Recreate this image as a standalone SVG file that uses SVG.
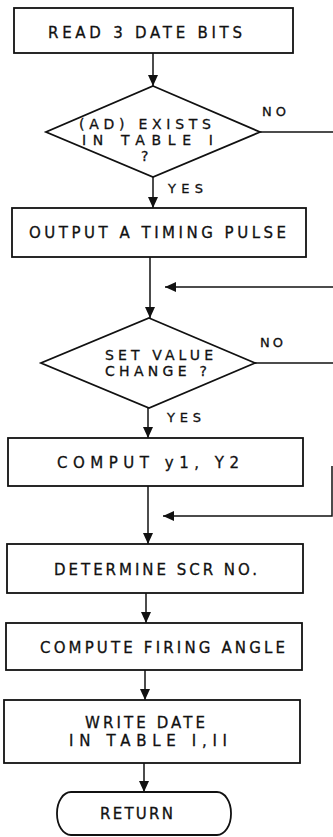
<svg xmlns="http://www.w3.org/2000/svg" width="333" height="837" viewBox="0 0 333 837">
  <style>
    .shape { fill: #fff; stroke: #111; stroke-width: 1.8; }
    .wire { fill: none; stroke: #111; stroke-width: 1.5; }
    .lbl { font-family: "DejaVu Sans", "Liberation Sans", sans-serif; font-size: 15px; fill: #111; stroke: #111; stroke-width: 0.3; }
    .dia { font-size: 14px; }
    .tag { font-family: "DejaVu Sans", "Liberation Sans", sans-serif; font-size: 13px; fill: #111; stroke: #111; stroke-width: 0.3; }
  </style>
  <defs>
    <marker id="arrow" markerUnits="userSpaceOnUse" markerWidth="12" markerHeight="10" refX="11" refY="5" orient="auto">
      <path d="M0,0 L11,5 L0,10 Z" fill="#111"/>
    </marker>
  </defs>

  <rect width="333" height="837" fill="#fff"/>

  <!-- connectors -->
  <g id="connectors">
    <path class="wire" d="M153,53 V86" marker-end="url(#arrow)"/>
    <path class="wire" d="M260,132 H333"/>
    <path class="wire" d="M153,177 V208" marker-end="url(#arrow)"/>
    <path class="wire" d="M150,257 V318" marker-end="url(#arrow)"/>
    <path class="wire" d="M333,287 H165" marker-end="url(#arrow)"/>
    <path class="wire" d="M255,363 H333"/>
    <path class="wire" d="M148,408 V438" marker-end="url(#arrow)"/>
    <path class="wire" d="M148,486 V544" marker-end="url(#arrow)"/>
    <path class="wire" d="M332,466 V516 H163" marker-end="url(#arrow)"/>
    <path class="wire" d="M146,593 V623" marker-end="url(#arrow)"/>
    <path class="wire" d="M145,670 V700" marker-end="url(#arrow)"/>
    <path class="wire" d="M144,763 V792" marker-end="url(#arrow)"/>
    <text class="tag" x="262" y="116" textLength="24">NO</text>
    <text class="tag" x="168" y="193" textLength="35">YES</text>
    <text class="tag" x="260" y="347" textLength="23">NO</text>
    <text class="tag" x="167" y="422" textLength="34">YES</text>
  </g>

  <g id="read-bits">
    <rect class="shape" x="14" y="8" width="279" height="45"/>
    <text class="lbl" x="48" y="38" textLength="194">READ 3 DATE BITS</text>
  </g>

  <g id="ad-exists">
    <polygon class="shape" points="153,86 260,132 153,177 46,132"/>
    <text class="lbl dia" x="79" y="129" textLength="132">(AD) EXISTS</text>
    <text class="lbl dia" x="82" y="145" textLength="131">IN TABLE I</text>
    <text class="lbl dia" x="141" y="161">?</text>
  </g>

  <g id="timing-pulse">
    <rect class="shape" x="12" y="208" width="294" height="49"/>
    <text class="lbl" x="29" y="238" textLength="257">OUTPUT A TIMING PULSE</text>
  </g>

  <g id="set-value">
    <polygon class="shape" points="149,318 255,363 149,408 41,363"/>
    <text class="lbl dia" x="105" y="360" textLength="108">SET VALUE</text>
    <text class="lbl dia" x="105" y="376" textLength="102">CHANGE ?</text>
  </g>

  <g id="compute-y">
    <rect class="shape" x="8" y="438" width="295" height="48"/>
    <text class="lbl" x="57" y="468" textLength="182">COMPUT  y1,  Y2</text>
  </g>

  <g id="determine-scr">
    <rect class="shape" x="7" y="544" width="296" height="49"/>
    <text class="lbl" x="54" y="575" textLength="203">DETERMINE SCR NO.</text>
  </g>

  <g id="firing-angle">
    <rect class="shape" x="6" y="623" width="296" height="47"/>
    <text class="lbl" x="40" y="653" textLength="245">COMPUTE FIRING ANGLE</text>
  </g>

  <g id="write-date">
    <rect class="shape" x="4" y="700" width="296" height="63"/>
    <text class="lbl" x="85" y="728" textLength="120">WRITE DATE</text>
    <text class="lbl" x="69" y="746" textLength="158">IN TABLE I,II</text>
  </g>

  <g id="return">
    <rect class="shape" x="57" y="792" width="174" height="43" rx="14" ry="21"/>
    <text class="lbl" x="100" y="819" textLength="73">RETURN</text>
  </g>
</svg>
